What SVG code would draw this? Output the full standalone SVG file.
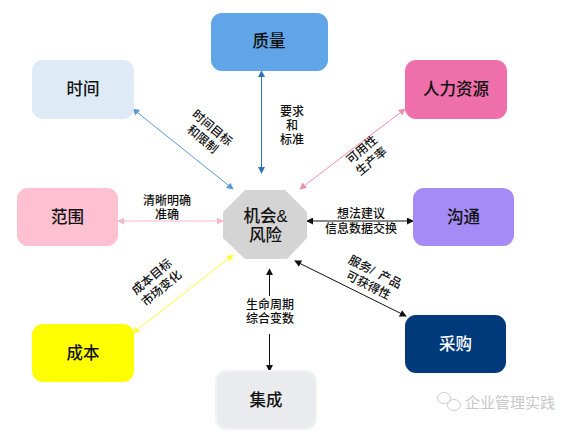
<svg xmlns="http://www.w3.org/2000/svg" width="573" height="445" viewBox="0 0 573 445">
<style>
text{font-family:"Liberation Sans","Noto Sans CJK SC",sans-serif;text-anchor:middle;fill:#111}
.n{font-size:16.500px;font-weight:500}
.l{font-size:12px;font-weight:500}
.c{fill:none;stroke-width:1}
</style>
<defs>
<marker id="ab" viewBox="0 0 8 8" refX="7" refY="4" markerWidth="7" markerHeight="7" orient="auto-start-reverse" markerUnits="userSpaceOnUse"><path d="M0 0L8 4L0 8z" fill="#5b9bd5"/></marker>
<marker id="ad" viewBox="0 0 8 8" refX="7" refY="4" markerWidth="7" markerHeight="7" orient="auto-start-reverse" markerUnits="userSpaceOnUse"><path d="M0 0L8 4L0 8z" fill="#2e75b6"/></marker>
<marker id="ap" viewBox="0 0 8 8" refX="7" refY="4" markerWidth="7" markerHeight="7" orient="auto-start-reverse" markerUnits="userSpaceOnUse"><path d="M0 0L8 4L0 8z" fill="#eb8fae"/></marker>
<marker id="al" viewBox="0 0 8 8" refX="7" refY="4" markerWidth="7" markerHeight="7" orient="auto-start-reverse" markerUnits="userSpaceOnUse"><path d="M0 0L8 4L0 8z" fill="#f4b8cc"/></marker>
<marker id="ay" viewBox="0 0 8 8" refX="7" refY="4" markerWidth="7" markerHeight="7" orient="auto-start-reverse" markerUnits="userSpaceOnUse"><path d="M0 0L8 4L0 8z" fill="#ffff33"/></marker>
<marker id="ak" viewBox="0 0 8 8" refX="7" refY="4" markerWidth="7" markerHeight="7" orient="auto-start-reverse" markerUnits="userSpaceOnUse"><path d="M0 0L8 4L0 8z" fill="#111"/></marker>
</defs>
<rect width="573" height="445" fill="#fff"/>
<g id="connectors">
<line class="c" x1="261.500" y1="71" x2="261.500" y2="173" stroke="#2e75b6" marker-start="url(#ad)" marker-end="url(#ad)"/>
<line class="c" x1="133" y1="109" x2="233" y2="189" stroke="#5b9bd5" marker-start="url(#ab)" marker-end="url(#ab)"/>
<line class="c" x1="405" y1="109" x2="300" y2="189" stroke="#eb8fae" marker-start="url(#ap)" marker-end="url(#ap)"/>
<line class="c" x1="118" y1="221" x2="223" y2="221" stroke="#f4b8cc" marker-start="url(#al)" marker-end="url(#al)"/>
<line class="c" x1="307" y1="221" x2="413" y2="221" stroke="#111" marker-start="url(#ak)" marker-end="url(#ak)"/>
<line class="c" x1="133" y1="333" x2="233" y2="255" stroke="#ffff33" stroke-width="1.200" marker-start="url(#ay)" marker-end="url(#ay)"/>
<line class="c" x1="406" y1="316" x2="295" y2="261" stroke="#111" marker-start="url(#ak)" marker-end="url(#ak)"/>
<line class="c" x1="269.500" y1="296" x2="269.500" y2="269" stroke="#111" marker-end="url(#ak)"/>
<line class="c" x1="269.500" y1="334" x2="269.500" y2="371" stroke="#111" marker-end="url(#ak)"/>
</g>
<g id="quality"><rect x="211" y="13" width="117" height="58" rx="11" fill="#5fa5e8"/><text class="n" x="269" y="47">质量</text></g>
<g id="time"><rect x="32" y="60" width="102" height="59" rx="11" fill="#deebf7"/><text class="n" x="83" y="95">时间</text></g>
<g id="hr"><rect x="405" y="60" width="102" height="59" rx="11" fill="#ee6fa9"/><text class="n" x="456" y="95">人力资源</text></g>
<g id="scope"><rect x="17" y="188" width="101" height="58" rx="11" fill="#ffc0d2"/><text class="n" x="67.500" y="223">范围</text></g>
<g id="comm"><rect x="413" y="188" width="101" height="58" rx="11" fill="#a48bf5"/><text class="n" x="463.500" y="223">沟通</text></g>
<g id="cost"><rect x="32" y="324" width="102" height="58" rx="11" fill="#ffff00"/><text class="n" x="83" y="359">成本</text></g>
<g id="procure"><rect x="405" y="315" width="101" height="58" rx="11" fill="#003a7a"/><text class="n" x="455.500" y="350" style="fill:#fff">采购</text></g>
<g id="integration"><rect x="216" y="371" width="100" height="58" rx="10" fill="#e9ebee" stroke="#f2f3f5" stroke-width="2"/><text class="n" x="266" y="406">集成</text></g>
<g id="risk"><polygon points="245,190 285,190 307,212 307,238 287,259 245,259 223,238 223,212" fill="#d4d4d4"/>
<text class="n" x="265.500" y="222">机会&amp;</text><text class="n" x="265.500" y="241">风险</text></g>
<g id="labels">
<text class="l" x="292" y="116">要求</text><text class="l" x="292" y="130">和</text><text class="l" x="292" y="144">标准</text>
<g transform="rotate(40 207 134)"><text class="l" x="207" y="130">时间目标</text><text class="l" x="207" y="145">和限制</text></g>
<g transform="rotate(-40 367 156)"><text class="l" x="367" y="152">可用性</text><text class="l" x="367" y="167">生产率</text></g>
<text class="l" x="167" y="205">清晰明确</text><text class="l" x="167" y="219">准确</text>
<text class="l" x="361" y="218">想法建议</text><text class="l" x="361" y="233">信息数据交换</text>
<g transform="rotate(-40 157 283)"><text class="l" x="157" y="279">成本目标</text><text class="l" x="157" y="294">市场变化</text></g>
<g transform="rotate(27 371 280)"><text class="l" x="371" y="275" style="word-spacing:3px">服务/ 产品</text><text class="l" x="371" y="290">可获得性</text></g>
<text class="l" x="270" y="309">生命周期</text><text class="l" x="270" y="323">综合变数</text>
</g>
<g id="watermark">
<ellipse cx="444" cy="398" rx="6.500" ry="5.500" fill="none" stroke="#ccc"/><ellipse cx="454" cy="405" rx="6.500" ry="5.500" fill="#fff" stroke="#ccc"/>
<text x="510" y="408" style="font-size:15px;fill:#c8c8c8">企业管理实践</text></g>
</svg>
